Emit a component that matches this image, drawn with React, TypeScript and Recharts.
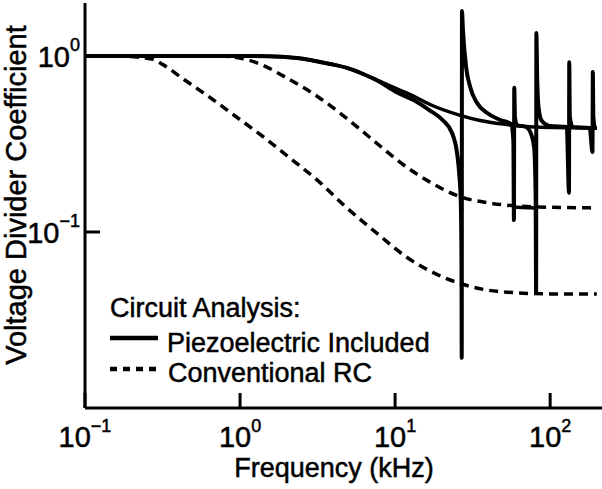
import React from "react";
import { LineChart, Line, XAxis, YAxis } from "recharts";

const freqTicks = [0.1, 1, 10, 100];
const coeffTicks = [0.1, 1];

// [frequency kHz, coefficient]
const rcLow: [number, number][] = [
  [0.1, 1], [0.18, 0.995], [0.27, 0.96], [0.32, 0.89], [0.44, 0.73],
  [0.66, 0.57], [0.93, 0.456], [1.39, 0.351], [1.95, 0.277], [3.19, 0.195],
  [4.76, 0.14], [8, 0.095], [11.6, 0.073], [16.8, 0.06], [26.3, 0.051],
  [45.5, 0.046], [100, 0.0445], [200, 0.0444],
];

const rcMid: [number, number][] = [
  [0.1, 1], [0.5, 0.999], [0.8, 0.995], [1.03, 0.968], [1.39, 0.889],
  [1.95, 0.76], [3.19, 0.585], [4.76, 0.45], [8, 0.308], [11.6, 0.237],
  [16.8, 0.192], [25.5, 0.16], [41, 0.146], [77.6, 0.139], [200, 0.137],
];

const piezoSmooth: [number, number][] = [
  [0.1, 1], [1.5, 0.998], [2.33, 0.975], [3.81, 0.9], [4.9, 0.855],
  [6.22, 0.79], [7.66, 0.73], [10.3, 0.65], [13.5, 0.585], [16.8, 0.53],
  [26.3, 0.46], [35.3, 0.43], [49.8, 0.41], [80, 0.395], [200, 0.39],
];

const piezoResonant: [number, number][] = [
  [0.1, 1], [1.5, 0.998], [2.33, 0.975], [3.81, 0.9], [4.9, 0.855],
  [6.22, 0.79], [7.66, 0.725], [10.3, 0.62], [13.5, 0.555], [16.8, 0.49],
  [20.4, 0.43], [23.3, 0.365], [25.1, 0.28], [25.9, 0.216], [26.5, 0.152],
  [26.8, 0.069], [26.9, 0.0193], [27.0, 1.8], [27.4, 1.4], [28.7, 0.866],
  [30.5, 0.667], [33.8, 0.54], [39.3, 0.474], [47.6, 0.433], [56, 0.41],
  [57.9, 0.33], [58.4, 0.117], [58.7, 0.66], [59.3, 0.45], [61, 0.405],
  [70, 0.395], [75.4, 0.36], [78.9, 0.3], [80.6, 0.16], [81.2, 0.045],
  [81.5, 1.35], [82.5, 0.75], [84, 0.52], [88, 0.43], [100, 0.4],
  [128, 0.395], [132.3, 0.167], [132.8, 0.92], [134, 0.45], [140, 0.395],
  [180, 0.39], [187.5, 0.285], [188.5, 0.81], [190, 0.45], [195, 0.39],
  [200, 0.39],
];

const piezoBridge: [number, number][] = [
  [58.6, 0.138], [81.2, 0.137],
];

const toPoints = (pairs: [number, number][]) => pairs.map(([f, v]) => ({ f, v }));

const FONT = '"Liberation Sans", Arial, Helvetica, sans-serif';
const INK = "#000";
// scanned original has slightly heavy type
const heavy = { stroke: INK, strokeWidth: 0.5 };

function exponent(value: number) {
  const e = Math.round(Math.log10(value));
  return e < 0 ? `\u2212${-e}` : `${e}`;
}

function FreqTick(props: any) {
  const { x, payload } = props;
  return (
    <text x={x} y={447} textAnchor="middle" fontFamily={FONT} fontSize={29} fill={INK} {...heavy}>
      10
      <tspan dy={-15} fontSize={18}>
        {exponent(payload.value)}
      </tspan>
    </text>
  );
}

function CoeffTick(props: any) {
  const { y, payload } = props;
  return (
    <text x={80} y={y + 11} textAnchor="end" fontFamily={FONT} fontSize={29} fill={INK} {...heavy}>
      10
      <tspan dy={-16} fontSize={18}>
        {exponent(payload.value)}
      </tspan>
    </text>
  );
}

export default function App() {
  const axisStroke = { stroke: INK, strokeWidth: 3 };
  return (
    <div style={{ position: "fixed", left: 0, top: 0, width: 602, height: 489, background: "#fff" }}>
      <LineChart width={602} height={489} margin={{ top: 3, right: 0, bottom: 0, left: 0 }}>
        <XAxis
          dataKey="f"
          type="number"
          scale="log"
          domain={[0.1, 216]}
          allowDataOverflow
          ticks={freqTicks}
          interval={0}
          height={81}
          axisLine={axisStroke}
          tickLine={axisStroke}
          tickSize={-15}
          tick={FreqTick}
        />
        <YAxis
          dataKey="v"
          type="number"
          scale="log"
          domain={[0.01, 2]}
          allowDataOverflow
          ticks={coeffTicks}
          interval={0}
          width={85}
          axisLine={axisStroke}
          tickLine={axisStroke}
          tickSize={-15}
          tick={CoeffTick}
        />
        <Line data={toPoints(rcLow)} dataKey="v" type="monotone" stroke={INK} strokeWidth={3.5} strokeDasharray="9 6" dot={false} isAnimationActive={false} />
        <Line data={toPoints(rcMid)} dataKey="v" type="monotone" stroke={INK} strokeWidth={3.5} strokeDasharray="9 6" dot={false} isAnimationActive={false} />
        <Line data={toPoints(piezoSmooth)} dataKey="v" type="monotone" stroke={INK} strokeWidth={3.5} dot={false} isAnimationActive={false} />
        <Line data={toPoints(piezoResonant)} dataKey="v" type="monotone" stroke={INK} strokeWidth={4} dot={false} isAnimationActive={false} />
        <Line data={toPoints(piezoBridge)} dataKey="v" type="linear" stroke={INK} strokeWidth={3.5} dot={false} isAnimationActive={false} />
      </LineChart>
      <svg width={602} height={489} style={{ position: "absolute", left: 0, top: 0, pointerEvents: "none" }}>
        <text transform="translate(26,195) rotate(-90)" textAnchor="middle" fontFamily={FONT} fontSize={29} fill={INK} {...heavy}>
          Voltage Divider Coefficient
        </text>
        <text x={334} y={477} textAnchor="middle" fontFamily={FONT} fontSize={27} fill={INK} {...heavy}>
          Frequency (kHz)
        </text>
        <text x={110} y={317} fontFamily={FONT} fontSize={27} fill={INK} {...heavy}>
          Circuit Analysis:
        </text>
        <line x1={110} y1={338} x2={158} y2={338} stroke={INK} strokeWidth={4.5} />
        <text x={167} y={352} fontFamily={FONT} fontSize={27} fill={INK} {...heavy}>
          Piezoelectric Included
        </text>
        <line x1={110} y1={369} x2={162} y2={369} stroke={INK} strokeWidth={4.5} strokeDasharray="7 6" />
        <text x={168} y={382} fontFamily={FONT} fontSize={27} fill={INK} {...heavy}>
          Conventional RC
        </text>
      </svg>
    </div>
  );
}
